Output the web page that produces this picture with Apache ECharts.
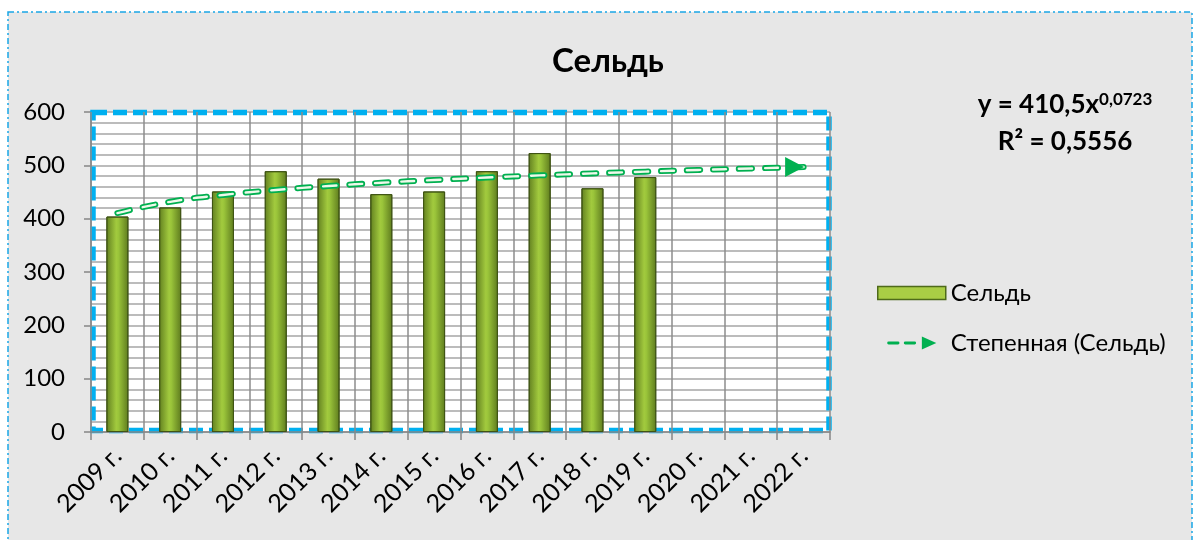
<!DOCTYPE html>
<html>
<head>
<meta charset="utf-8">
<script src="https://cdn.jsdelivr.net/npm/echarts@6/dist/echarts.min.js"></script>
<style>
html, body { margin: 0; padding: 0; background: #fff; }
#main { width: 1199px; height: 540px; }
</style>
</head>
<body>
<div id="main"></div>
<script>
var years = ['2009 г.', '2010 г.', '2011 г.', '2012 г.', '2013 г.', '2014 г.', '2015 г.',
             '2016 г.', '2017 г.', '2018 г.', '2019 г.', '2020 г.', '2021 г.', '2022 г.'];
var herring = [404, 421, 451, 489, 475, 446, 451, 489, 523, 457, 478, null, null, null];
// степенной тренд, значения
var trend = [410.5, 431.6, 444.4, 453.8, 461.2, 467.3, 472.5, 477.1, 481.2, 484.9, 488.2, 491.3, 494.1, 496.8];
var yTicks = [0, 100, 200, 300, 400, 500, 600];

var myChart = echarts.init(document.getElementById('main'));
var font = 'Lato, "Open Sans", sans-serif';

var option = {
    backgroundColor: '#fff',
    textStyle: { fontFamily: font },
    title: [
        {
            text: 'Сельдь',
            left: 603, top: 40, textAlign: 'center',
            textStyle: { fontSize: 33, fontWeight: 'bold', color: '#000', fontFamily: font }
        },
        {
            text: '{a|y = 410,5x}{s|0,0723}',
            left: 1060, top: 86, textAlign: 'center',
            textStyle: {
                rich: {
                    a: { fontSize: 26, fontWeight: 'bold', color: '#000', fontFamily: font },
                    s: { fontSize: 17, fontWeight: 'bold', color: '#000', fontFamily: font, verticalAlign: 'top', padding: [0, 0, 10, 0] }
                }
            }
        },
        {
            text: 'R² = 0,5556',
            left: 1060, top: 124, textAlign: 'center',
            textStyle: { fontSize: 26, fontWeight: 'bold', color: '#000', fontFamily: font }
        }
    ],
    graphic: [
        {
            type: 'rect', z: -10, silent: true,
            shape: { x: 8, y: 12, width: 1184, height: 540 },
            style: { fill: '#e7e7e7', stroke: '#1aa7e6', lineWidth: 1.5, lineDash: [6, 3, 2, 3] }
        },
        {
            // рамка области построения поверх сетки
            type: 'rect', z: 1, silent: true,
            shape: { x: 93, y: 112.5, width: 736, height: 318 },
            style: { fill: null, stroke: '#00b0f0', lineWidth: 5.5, lineDash: [14, 6] }
        }
    ],
    legend: {
        orient: 'vertical',
        left: 872, top: 274,
        itemWidth: 68, itemHeight: 13, itemGap: 22,
        textStyle: { fontSize: 24, color: '#000', fontFamily: font, lineHeight: 28 },
        data: [
            { name: 'Сельдь', icon: 'rect',
              itemStyle: { color: '#a9cd45', borderColor: '#4e6a1a', borderWidth: 1.5 } },
            { name: 'Степенная (Сельдь)',
              icon: 'path://M2,5h13a2,2 0 0 1 0,4h-13a2,2 0 0 1 0,-4z M25,5h13a2,2 0 0 1 0,4h-13a2,2 0 0 1 0,-4z M48,-2L68,7L48,16z',
              itemStyle: { color: '#00b050', borderWidth: 0 } }
        ]
    },
    grid: {
        left: 91, right: 369, top: 112, bottom: 108,
        show: true,
        backgroundColor: '#fff',
        borderWidth: 0
    },
    xAxis: {
        type: 'category',
        data: years,
        boundaryGap: true,
        z: 2,
        axisLine: { lineStyle: { color: '#868686', width: 1.5 } },
        axisTick: { show: true, length: 8, lineStyle: { color: '#868686', width: 1.5 } },
        splitLine: { show: true, lineStyle: { color: '#8c8c8c', width: 1.5 } },
        axisLabel: { rotate: 45, fontSize: 25, color: '#000', margin: 20, fontFamily: font, interval: 0 }
    },
    yAxis: {
        type: 'value',
        min: 0, max: 600, interval: 100,
        axisLine: { show: true, lineStyle: { color: '#868686', width: 1.5 } },
        axisTick: { show: true, length: 7, lineStyle: { color: '#868686', width: 1.5 } },
        axisLabel: {
            fontSize: 24, color: '#000', margin: 26, fontFamily: font,
            formatter: function (v) { return yTicks.indexOf(v) >= 0 ? String(v) : ''; }
        },
        splitLine: { show: true, lineStyle: { color: '#a6a6a6', width: 1.5 } },
        minorTick: { show: false, splitNumber: 5 },
        minorSplitLine: { show: true, lineStyle: { color: '#a6a6a6', width: 1.5 } }
    },
    series: [
        {
            name: 'Сельдь',
            type: 'bar',
            barWidth: 22,
            z: 3,
            data: herring,
            itemStyle: {
                color: new echarts.graphic.LinearGradient(0, 0, 1, 0, [
                    { offset: 0, color: '#628020' },
                    { offset: 0.45, color: '#a2ca3e' },
                    { offset: 0.55, color: '#9ac43a' },
                    { offset: 1, color: '#5e7b1e' }
                ]),
                borderColor: '#3f5414',
                borderWidth: 1
            }
        },
        {
            name: 'Степенная (Сельдь)',
            type: 'line',
            data: trend,
            symbol: 'none',
            smooth: true,
            z: 4,
            lineStyle: { color: '#00b050', width: 6, type: [13, 13], cap: 'round' }
        },
        {
            name: 'trend-inner',
            type: 'line',
            data: trend,
            symbol: 'none',
            smooth: true,
            z: 5,
            lineStyle: { color: '#eef8ea', width: 2.4, type: [13, 13], cap: 'round' }
        },
        {
            // стрелка на конце линии тренда
            name: 'trend-arrow',
            type: 'scatter',
            z: 6,
            data: [[years.length - 1, trend[trend.length - 1]]],
            symbol: 'triangle',
            symbolSize: [20, 19],
            symbolRotate: -90,
            symbolOffset: [-9, 0],
            itemStyle: { color: '#00b050', opacity: 1 }
        }
    ]
};
myChart.setOption(option);
</script>
</body>
</html>
